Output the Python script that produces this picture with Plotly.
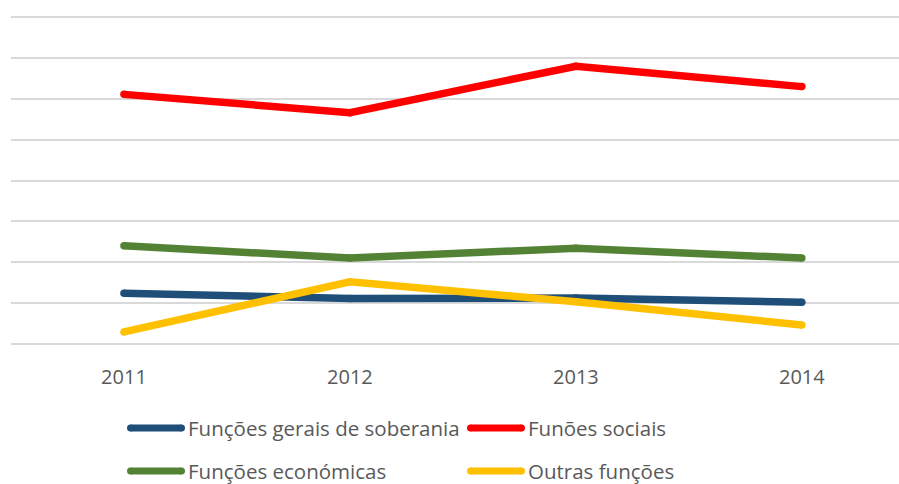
import plotly.graph_objects as go

years = ["2011", "2012", "2013", "2014"]
soberania = [1.24, 1.11, 1.12, 1.02]
sociais = [6.11, 5.66, 6.80, 6.30]
economicas = [2.40, 2.10, 2.34, 2.10]
outras = [0.29, 1.52, 1.03, 0.46]

series_names = ["Funções gerais de soberania", "Funões sociais", "Funções económicas", "Outras funções"]
series_values = [soberania, sociais, economicas, outras]
series_colors = ["#1F4E79", "#FF0000", "#548235", "#FFC000"]

W, H = 899, 484
ML, MR, MT, MB = 11, 0, 16, 139
PW, PH = W - ML - MR, H - MT - MB
YR = [-0.03, 8.03]

fig = go.Figure()
for name, vals, col in zip(series_names, series_values, series_colors):
    fig.add_trace(go.Scatter(
        x=years, y=vals, name=name, mode="lines+markers",
        line=dict(color=col, width=7.5),
        marker=dict(color=col, size=7.5, line=dict(width=0)),
        showlegend=False, hoverinfo="skip"))

def px2paper(px, py):
    return (px - ML) / PW, (H - MB - py) / PH

shapes = []
annotations = []
legend_pos = [(127, 428), (467, 428), (127, 471), (467, 471)]
for (kx, ky), name, col in zip(legend_pos, series_names, series_colors):
    x0, y0 = px2paper(kx + 3.5, ky)
    x1, _ = px2paper(kx + 58 - 3.5, ky)
    shapes.append(dict(type="line", xref="paper", yref="paper", x0=x0, x1=x1, y0=y0, y1=y0,
                       line=dict(color=col, width=7)))
    for xx in (x0, x1):
        shapes.append(dict(type="circle", xref="paper", yref="paper", xsizemode="pixel", ysizemode="pixel",
                           xanchor=xx, yanchor=y0, x0=-3.5, x1=3.5, y0=-3.5, y1=3.5,
                           fillcolor=col, line=dict(width=0)))
    tx, _ = px2paper(kx + 60, ky)
    annotations.append(dict(xref="paper", yref="paper", x=tx, y=y0, xanchor="left", yanchor="middle",
                            text=name, showarrow=False, borderpad=0,
                            font=dict(family="Open Sans", size=20.5, color="#595959")))

fig.update_layout(
    width=W, height=H,
    margin=dict(l=ML, r=MR, t=MT, b=MB),
    paper_bgcolor="white", plot_bgcolor="white",
    showlegend=False,
    shapes=shapes, annotations=annotations,
    xaxis=dict(type="category", range=[-0.5, 3.43], showgrid=False, zeroline=False,
               showline=False, ticks="", ticklabelstandoff=18,
               tickfont=dict(family="Open Sans", size=20, color="#595959")),
    yaxis=dict(range=YR, tickmode="linear", tick0=0, dtick=1, showgrid=True, gridcolor="#D9D9D9", gridwidth=2,
               zeroline=False, showline=False, showticklabels=False, ticks=""),
)

fig.write_html("out.html", config={"displayModeBar": False},
               post_script="document.body.style.margin='0px';document.body.style.overflow='hidden';")
